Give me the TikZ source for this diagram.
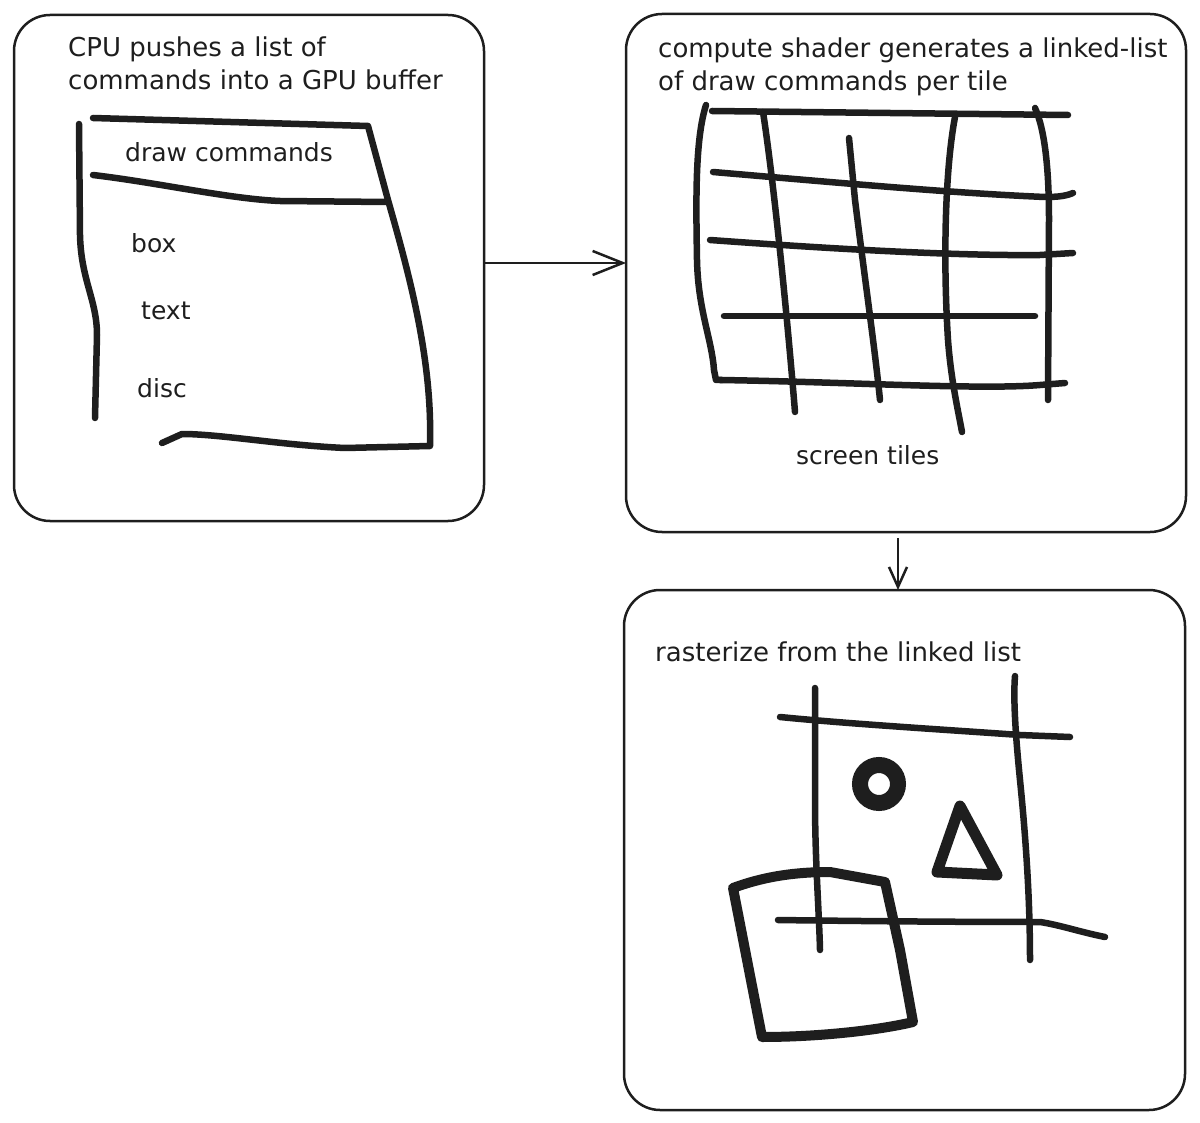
\documentclass[tikz,border=0pt]{standalone}
\usepackage{fontspec}
\setmainfont{DejaVu Sans}
\usetikzlibrary{arrows.meta}
\definecolor{ink}{HTML}{1E1E1E}
\begin{document}
\begin{tikzpicture}[x=1pt,y=-1pt,
  panel/.style={draw=ink, line width=2.5pt, rounded corners=36pt, inner sep=0pt, outer sep=0pt},
  stroke/.style={draw=ink, line width=6.5pt, line cap=round, line join=round},
  fat/.style={draw=ink, line width=10pt, line cap=round, line join=round},
  lbl/.style={anchor=base west, inner sep=0pt, text=ink, font=\fontsize{25}{33}\selectfont, align=left},
  ttl/.style={lbl, font=\fontsize{26}{33}\selectfont},
  conn/.style={draw=ink, line width=2.5pt, -{Straight Barb[length=30pt,width=24pt,line width=2.5pt]}}
]
\useasboundingbox (0,0) rectangle (1200,1123);

% panels
\node[panel, minimum width=470pt, minimum height=506pt] (A) at (249,268) {};
\node[panel, minimum width=560pt, minimum height=518pt] (B) at (906,273) {};
\node[panel, minimum width=561pt, minimum height=520pt] (C) at (904.5,850) {};

% connectors
\draw[conn] ([yshift=5pt]A.east) -- ([yshift=5pt]A.east -| B.west);
\draw[conn, -{Straight Barb[length=20pt,width=18pt,line width=2.5pt]}, shorten <=6pt] ([xshift=-8pt]B.south) -- ([xshift=-8pt]B.south |- C.north);

% ---- panel A ----
\node[ttl] (tA) at (68,90) {CPU pushes a list of\\commands into a GPU buffer};
\draw[stroke] (79,124) -- (80,235) .. controls (81,280) and (97,300) .. (97,335) -- (95,418);
\draw[stroke] (93,118) -- (368,126) -- (388,200) .. controls (405,260) and (428,340) .. (430,420) -- (430,446) -- (345,448) .. controls (280,445) and (220,434) .. (182,434) -- (162,443);
\draw[stroke] (93,175) .. controls (160,183) and (230,199) .. (280,201) -- (388,202);
\node[lbl] (dc) at (125,162) {draw commands};
\node[lbl] (bx) at (131,253) {box};
\node[lbl] (tx) at (141,320) {text};
\node[lbl] (ds) at (137,397) {disc};

% ---- panel B ----
\node[ttl] (tB) at (658,91) {compute shader generates a linked-list\\of draw commands per tile};
\draw[stroke] (712,111) -- (1068,115);
\draw[stroke] (713,172) .. controls (830,182) and (950,193) .. (1045,197) .. controls (1058,197) and (1066,196) .. (1073,193);
\draw[stroke] (710,240) .. controls (820,248) and (950,256) .. (1040,255) -- (1073,253);
\draw[stroke] (724,316) -- (1035,316);
\draw[stroke] (720,380) .. controls (850,382) and (980,390) .. (1040,385) -- (1065,383);
\draw[stroke] (706,105) .. controls (695,140) and (696,200) .. (697,260) .. controls (698,310) and (712,340) .. (714,370) -- (716,380) -- (722,380);
\draw[stroke] (763,112) .. controls (772,170) and (785,290) .. (795,412);
\draw[stroke] (849,138) -- (855,200) .. controls (865,280) and (875,350) .. (880,400);
\draw[stroke] (955,117) .. controls (945,170) and (943,260) .. (948,340) .. controls (951,380) and (958,410) .. (962,432);
\draw[stroke] (1035,108) .. controls (1045,130) and (1049,170) .. (1049,220) -- (1048,400);
\node[lbl] (st) at (796,464) {screen tiles};

% ---- panel C ----
\node[ttl] (tC) at (655,661) {rasterize from the linked list};
\draw[stroke] (815,688) -- (815,800) .. controls (815,860) and (819,910) .. (820,950);
\draw[stroke] (1015,676) .. controls (1013,700) and (1016,740) .. (1020,780) .. controls (1026,840) and (1030,900) .. (1030,960);
\draw[stroke] (780,717) .. controls (850,724) and (950,730) .. (1020,735) -- (1070,737);
\draw[stroke] (778,920) .. controls (850,921) and (950,922) .. (1040,922) .. controls (1060,925) and (1080,932) .. (1105,937);
\draw[draw=ink, line width=16pt] (879,784) circle (19pt);
\draw[fat, line width=11pt] (960,806) -- (997,875) -- (937,872) -- cycle;
\draw[fat] (733,888) .. controls (760,878) and (790,872) .. (830,872) -- (885,882) -- (900,950) -- (913,1022) .. controls (880,1030) and (820,1037) .. (762,1037) -- cycle;
\end{tikzpicture}
\end{document}
